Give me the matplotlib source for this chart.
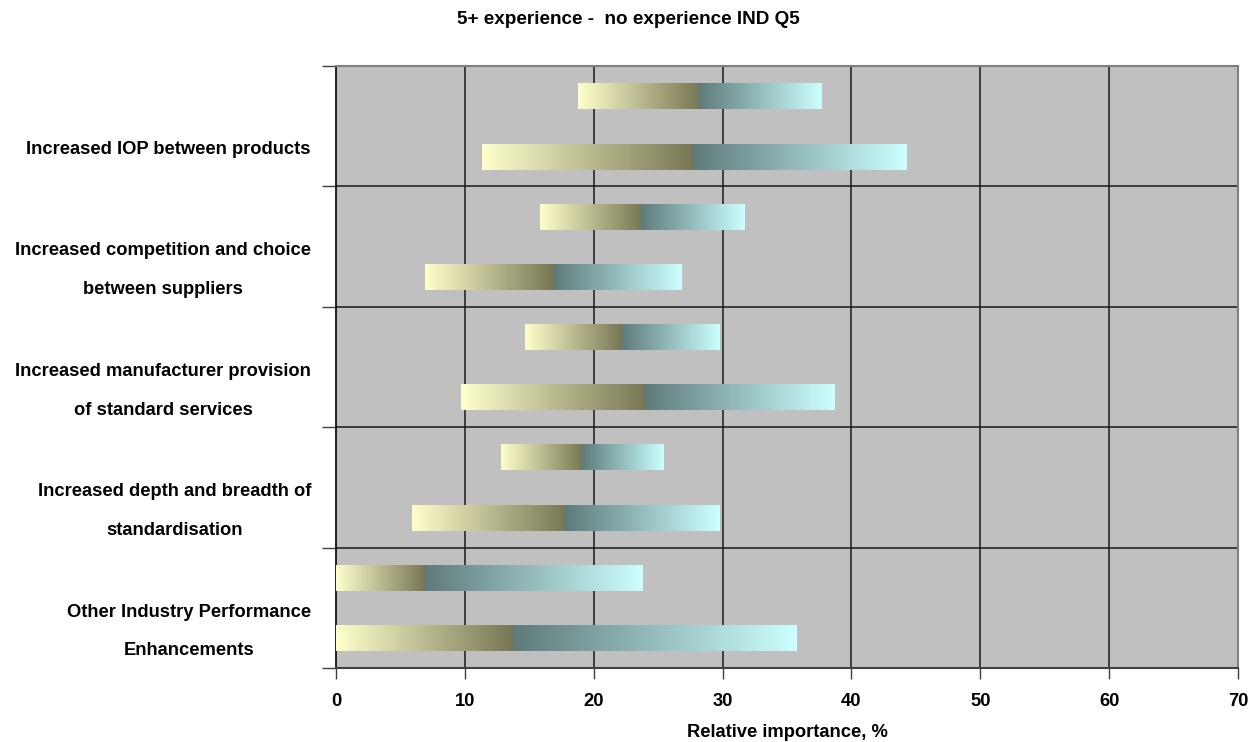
import numpy as np
import matplotlib
matplotlib.use("Agg")
import matplotlib.pyplot as plt
from matplotlib.colors import LinearSegmentedColormap

plt.rcParams['font.family'] = ['Liberation Sans', 'DejaVu Sans']
plt.rcParams['font.weight'] = 'bold'

categories = [
    "Increased IOP between products",
    "Increased competition and choice\nbetween suppliers",
    "Increased manufacturer provision\nof standard services",
    "Increased depth and breadth of\nstandardisation",
    "Other Industry Performance\nEnhancements",
]
# upper bar in each category
upper_low = [18.8, 15.8, 14.7, 12.8, 0.0]
upper_mid = [28.2, 23.7, 22.2, 19.1, 6.9]
upper_high = [37.7, 31.7, 29.8, 25.4, 23.8]
# lower bar in each category
lower_low = [11.3, 6.9, 9.7, 5.9, 0.0]
lower_mid = [27.7, 16.9, 24.0, 17.8, 13.7]
lower_high = [44.3, 26.8, 38.7, 29.8, 35.7]

xticks = [0, 10, 20, 30, 40, 50, 60, 70]
title = "5+ experience -  no experience IND Q5"
xlabel = "Relative importance, %"

fig = plt.figure(figsize=(12.5, 7.42), dpi=100)
ax = fig.add_axes([336/1250, 1-668/742, (1238-336)/1250, (668-66)/742])
ax.set_facecolor('#C0C0C0')

cmap_left = LinearSegmentedColormap.from_list('l', ['#FFFFCC', '#777755'])
cmap_right = LinearSegmentedColormap.from_list('r', ['#5F7B7B', '#CCFFFF'])
grad = np.linspace(0, 1, 256).reshape(1, -1)

h = 0.21
offsets = [0.253, 0.756]
for i in range(len(categories)):
    for off, lo, mi, hi in ((offsets[0], upper_low[i], upper_mid[i], upper_high[i]),
                            (offsets[1], lower_low[i], lower_mid[i], lower_high[i])):
        yc = i + off
        ax.imshow(grad, cmap=cmap_left, aspect='auto', interpolation='bilinear',
                  extent=[lo, mi, yc + h/2, yc - h/2], zorder=3)
        ax.imshow(grad, cmap=cmap_right, aspect='auto', interpolation='bilinear',
                  extent=[mi, hi, yc + h/2, yc - h/2], zorder=3)

ax.set_xlim(0, 70)
ax.set_ylim(len(categories), 0)

# vertical grid
for x in xticks[1:-1]:
    ax.axvline(x, color='#1a1a1a', lw=1.1, zorder=1)
# category separators
for b in range(1, len(categories)):
    ax.axhline(b, color='#1a1a1a', lw=1.1, zorder=1)

ax.set_xticks(xticks)
ax.set_xticklabels([str(v) for v in xticks], fontsize=13.2, fontweight='bold')
ax.tick_params(axis='x', direction='out', length=8, width=1, pad=10, color='#404040')

ax.set_yticks(range(len(categories) + 1))
ax.set_yticklabels([])
ax.tick_params(axis='y', which='major', direction='out', length=10, width=1, color='#404040')
label_pos = [i + 0.675 - (0.085 if '\n' in c else 0.0) for i, c in enumerate(categories)]
ax.set_yticks(label_pos, minor=True)
ax.set_yticklabels(categories, minor=True, fontsize=13.2, fontweight='bold',
                   multialignment='center', linespacing=2.68)
ax.tick_params(axis='y', which='minor', length=0, pad=18)

for s in ['top', 'right']:
    ax.spines[s].set_color('#808080')
    ax.spines[s].set_linewidth(1.5)
ax.spines['left'].set_color('black')
ax.spines['left'].set_linewidth(1.2)
ax.spines['bottom'].set_color('#404040')
ax.spines['bottom'].set_linewidth(1.5)

ax.set_xlabel(xlabel, fontsize=13.2, fontweight='bold', labelpad=10)
fig.text(0.503, 1-19/742, title, ha='center', va='center', fontsize=13.6, fontweight='bold')

fig.savefig('out.png', dpi=100)
